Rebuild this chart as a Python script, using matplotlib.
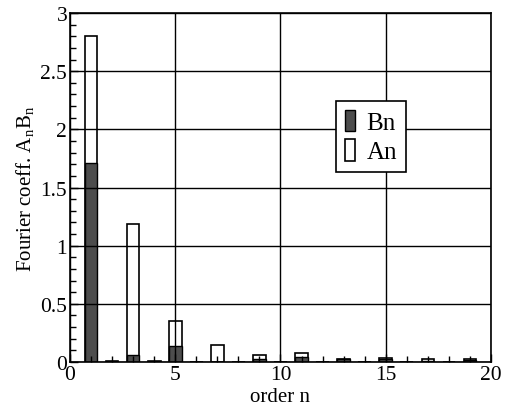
import matplotlib.pyplot as plt
import numpy as np
from matplotlib.ticker import MultipleLocator

plt.rcParams['font.family'] = ['Liberation Serif', 'DejaVu Serif']
plt.rcParams['mathtext.fontset'] = 'custom'
plt.rcParams['mathtext.rm'] = 'Liberation Serif'
plt.rcParams['mathtext.it'] = 'Liberation Serif'

order = np.arange(1, 20)
an = [2.80, 0.005, 1.19, 0.005, 0.355, 0.004, 0.146, 0.003, 0.06, 0.003,
      0.077, 0.002, 0.028, 0.002, 0.032, 0.002, 0.030, 0.002, 0.024]
bn = [1.71, 0.002, 0.06, 0.002, 0.14, 0.002, 0.004, 0.002, 0.025, 0.002,
      0.042, 0.002, 0.022, 0.002, 0.028, 0.002, 0.006, 0.002, 0.020]

dark = "#4d4d4d"

fig = plt.figure(figsize=(5.17, 4.06), dpi=100)
ax = fig.add_axes([0.1354, 0.1059, 0.8143, 0.8596])

ax.bar(order, an, width=0.6, color="white", edgecolor="black", linewidth=1.2, label="An", zorder=1)
ax.bar(order, bn, width=0.6, color=dark, edgecolor="black", linewidth=1.0, label="Bn", zorder=2)

ax.set_xlim(0, 20)
ax.set_ylim(0, 3)
ax.xaxis.set_major_locator(MultipleLocator(5))
ax.xaxis.set_minor_locator(MultipleLocator(1))
ax.yaxis.set_major_locator(MultipleLocator(0.5))
ax.yaxis.set_minor_locator(MultipleLocator(0.1))
ax.yaxis.set_major_formatter(plt.FuncFormatter(lambda v, p: "%g" % v))
ax.tick_params(which="both", direction="in", top=False, right=False, labelsize=15.5, width=1)
ax.tick_params(which="major", length=6, pad=2)
ax.tick_params(which="minor", length=4)
ax.grid(True, which="major", color="black", linewidth=1.0, zorder=3)
ax.set_axisbelow(False)
for s in ax.spines.values():
    s.set_linewidth(1.2)

ax.set_xlabel("order n", fontsize=15, labelpad=2)
ax.set_ylabel(r"Fourier coeff. A$_\mathrm{n}$B$_\mathrm{n}$", fontsize=15, labelpad=3)

h, l = ax.get_legend_handles_labels()
leg = ax.legend(h[::-1], l[::-1], loc="upper left", bbox_to_anchor=(0.632, 0.748),
                borderaxespad=0, fontsize=18, frameon=True, fancybox=False, framealpha=1,
                edgecolor="black", handlelength=0.42, handleheight=0.95,
                handletextpad=0.45, borderpad=0.35, labelspacing=0.2)
leg.get_frame().set_linewidth(1.2)
leg.set_zorder(5)

plt.savefig("out.png", dpi=100)
